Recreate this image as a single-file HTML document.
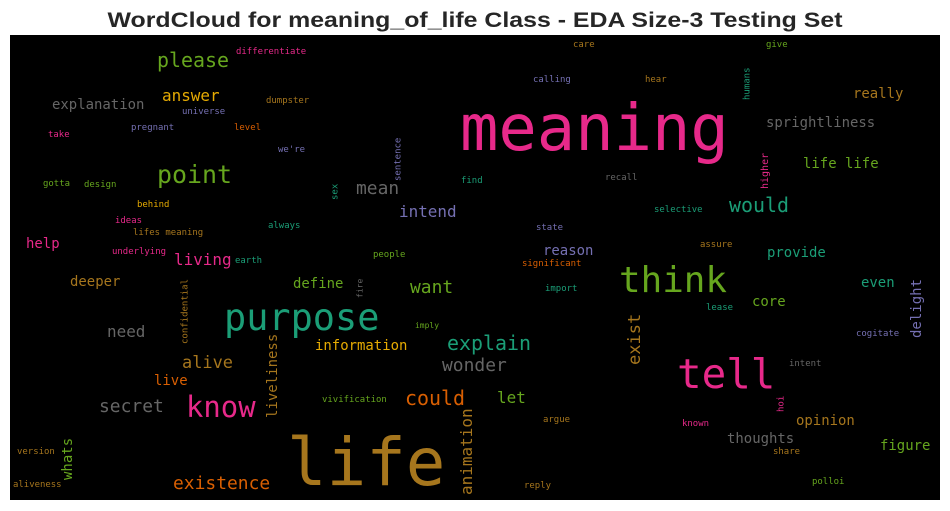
<!DOCTYPE html>
<html><head><meta charset="utf-8">
<style>
html,body{margin:0;padding:0;background:#fff;width:950px;height:511px;overflow:hidden}
svg text{font-family:"DejaVu Sans Mono","Liberation Mono",monospace}
</style></head>
<body>
<svg id="chart" width="950" height="511" xmlns="http://www.w3.org/2000/svg">
<text x="475" y="27" text-anchor="middle" font-size="21" font-weight="bold" textLength="735" lengthAdjust="spacingAndGlyphs" fill="#262626" style="font-family:'Liberation Sans',Arial,sans-serif">WordCloud for meaning_of_life Class - EDA Size-3 Testing Set</text>
<rect x="10" y="35" width="930" height="465" fill="#000"/>
<g id="words"></g>
</svg>
<script>
const words=["meaning","life","tell","think","purpose","know","point","please","answer","explanation","differentiate","dumpster","universe","pregnant","level","take","we're","sentence","sex","mean","intend","gotta","design","behind","ideas","lifes meaning","always","help","underlying","living","earth","people","find","care","give","calling","hear","humans","really","sprightliness","life life","recall","higher","would","selective","state","assure","reason","provide","significant","deeper","define","fire","want","confidential","need","imply","information","liveliness","alive","live","secret","vivification","could","animation","version","whats","aliveness","existence","import","even","delight","core","lease","exist","explain","cogitate","wonder","intent","let","argue","hoi","known","opinion","thoughts","figure","share","polloi","reply"];
const wx=[460,287,677,619,224,186,157,157,162,52,236,266,182,131,234,48,278,398,335,356,399,43,84,137,115,133,268,26,112,174,235,373,461,573,766,533,645,747,853,766,803,605,765,729,654,536,700,543,767,522,70,293,360,410,185,107,415,315,273,182,154,99,322,405,467,17,68,13,173,545,861,917,752,706,635,447,856,442,789,497,543,781,682,796,727,880,773,812,524];
const wy=[150,485,388,292,330,417,183,67,101,109,54,103,114,130,130,137,152,181,200,194,217,186,187,207,223,235,228,248,254,265,263,257,183,47,47,82,82,100,98,127,168,180,189,212,212,230,247,255,257,266,286,288,298,293,344,337,328,350,418,368,385,412,402,405,495,454,480,487,489,291,287,338,306,310,365,350,336,371,366,403,422,412,426,425,443,450,454,484,488];
const ws=[64,66,41,36,37,29,25,20,16,14,9,9,9,9,9,9,9,9,9,18,16,9,9,9,9,9,9,14,9,16,9,9,9,9,9,9,9,9,14,14,14,9,10,20,9,9,9,14,14,9,14,14,8,18,9,16,8,14,14,17,14,18,9,20,16,9,14,9,18,9,14,14,14,9,17,20,9,18,9,16,9,9,9,14,14,14,9,9,9];
const wc=["#e7298a","#a6761d","#e7298a","#66a61e","#1b9e77","#e7298a","#66a61e","#66a61e","#e6ab02","#666666","#e7298a","#a6761d","#7570b3","#7570b3","#d95f02","#e7298a","#7570b3","#7570b3","#1b9e77","#666666","#7570b3","#66a61e","#66a61e","#e6ab02","#e7298a","#a6761d","#1b9e77","#e7298a","#e7298a","#e7298a","#1b9e77","#66a61e","#1b9e77","#a6761d","#66a61e","#7570b3","#a6761d","#1b9e77","#a6761d","#666666","#66a61e","#666666","#e7298a","#1b9e77","#1b9e77","#7570b3","#a6761d","#7570b3","#1b9e77","#d95f02","#a6761d","#66a61e","#666666","#66a61e","#a6761d","#666666","#66a61e","#e6ab02","#a6761d","#a6761d","#d95f02","#666666","#66a61e","#d95f02","#a6761d","#a6761d","#66a61e","#a6761d","#d95f02","#1b9e77","#1b9e77","#7570b3","#66a61e","#1b9e77","#a6761d","#1b9e77","#7570b3","#666666","#666666","#66a61e","#a6761d","#e7298a","#e7298a","#a6761d","#666666","#66a61e","#a6761d","#66a61e","#a6761d"];
const wv=["sentence","sex","humans","higher","fire","confidential","liveliness","animation","whats","delight","exist","hoi"];
const NS="http://www.w3.org/2000/svg";
const g=document.getElementById("words");
for(let i=0;i<words.length;i++){
  const t=document.createElementNS(NS,"text");
  
  
  t.setAttribute("font-size",ws[i]);
  t.setAttribute("fill",wc[i]);
  if(wv.indexOf(words[i])>=0){
    const bx=wx[i]+ws[i]*0.3;
    t.setAttribute("transform","translate("+bx+","+wy[i]+") rotate(-90)");
  }else{
    t.setAttribute("x",wx[i]);
    t.setAttribute("y",wy[i]);
    t.setAttribute("textLength",(words[i].length*ws[i]*0.6).toFixed(1));
    t.setAttribute("lengthAdjust","spacingAndGlyphs");
  }
  t.textContent=words[i];
  g.appendChild(t);
}
</script>
</body></html>
